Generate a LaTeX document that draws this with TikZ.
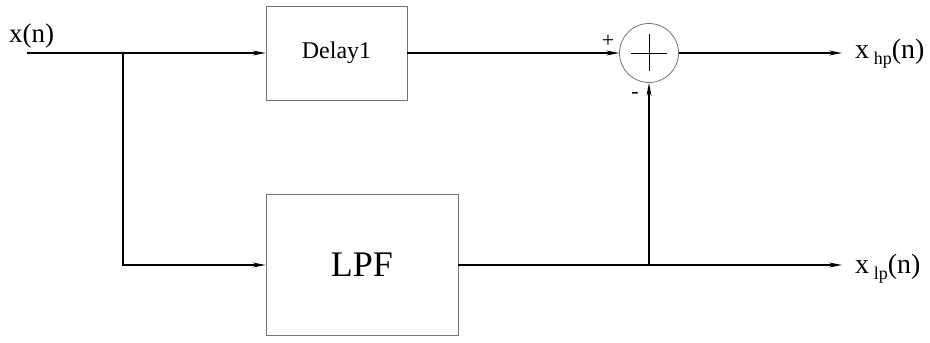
\documentclass[tikz,border=0pt]{standalone}
\usepackage{fontspec}
\setmainfont{Liberation Serif}
\usetikzlibrary{arrows.meta}
\newcommand{\subtxt}[1]{\,\raisebox{-0.5ex}{\fontsize{18}{18}\selectfont #1}}
\begin{document}
\begin{tikzpicture}[x=1pt,y=-1pt,
  blk/.style={draw=black!55, line width=0.8pt, rectangle, inner sep=0pt},
  wire/.style={draw=black, line width=1.1pt},
  arr/.style={wire, -{Stealth[length=13pt,width=5pt]}},
  lbl/.style={inner sep=0pt, anchor=base west}]
\useasboundingbox (0,0) rectangle (930,343);
% blocks
\node[blk, minimum width=141pt, minimum height=94pt, font=\fontsize{24}{24}\selectfont] (delay) at (336.5,53) {Delay1};
\node[blk, minimum width=192pt, minimum height=141pt, font=\fontsize{36}{36}\selectfont] (lpf) at (362,264.5) {LPF};
\node[draw=black!55, line width=0.8pt, circle, minimum size=59pt, inner sep=0pt] (sum) at (649,53) {};
\draw[wire, line width=0.9pt] ([xshift=-18pt]sum.center) -- ([xshift=18pt]sum.center);
\draw[wire, line width=0.9pt] ([yshift=-18pt]sum.center) -- ([yshift=19pt]sum.center);
% coordinates
\coordinate (in) at (27,53);
\coordinate (br) at (123,53);
\coordinate (brl) at (123,265);
\coordinate (j) at (649,265);
\coordinate (ohp) at (842,53);
\coordinate (olp) at (842,265);
% labels
\node[lbl, font=\fontsize{27}{27}\selectfont] (xn) at (9,42) {x(n)};
\node[lbl, font=\fontsize{28}{28}\selectfont] (xhp) at (855,58) {x\subtxt{hp}(n)};
\node[lbl, font=\fontsize{28}{28}\selectfont] (xlp) at (855,273) {x\subtxt{lp}(n)};
\node[font=\fontsize{22}{22}\selectfont, inner sep=0pt] (plus) at (608,41) {+};
\node[font=\fontsize{22}{22}\selectfont, inner sep=0pt] (minus) at (635,95) {-};
% connectors
\draw[arr] (in) -- (delay.west);
\draw[arr] (br) -- (brl) -- (lpf.west |- brl);
\draw[arr] (delay.east) -- (sum.west);
\draw[arr] (sum.east) -- (ohp);
\draw[arr] (lpf.east |- j) -- (olp);
\draw[arr] (j) -- (sum.south);
\end{tikzpicture}
\end{document}
